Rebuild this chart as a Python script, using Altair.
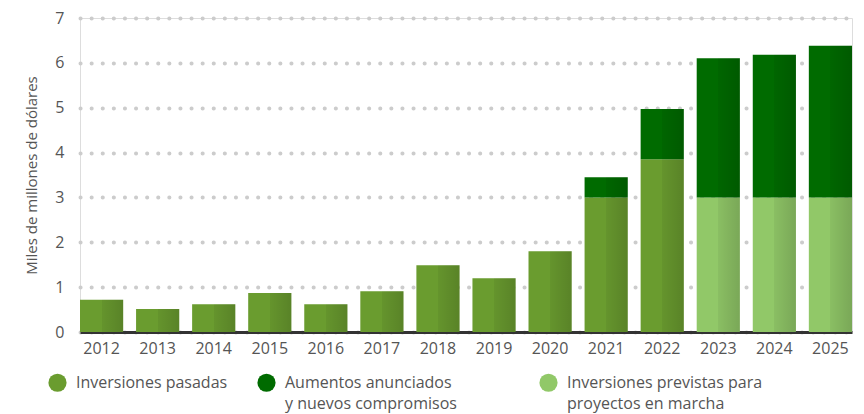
import altair as alt
import pandas as pd

years = [str(y) for y in range(2012, 2026)]
past = [0.72, 0.51, 0.62, 0.87, 0.62, 0.91, 1.49, 1.20, 1.80, 3.00, 3.85, 0, 0, 0]
planned = [0, 0, 0, 0, 0, 0, 0, 0, 0, 0, 0, 3.00, 3.00, 3.00]
announced = [0, 0, 0, 0, 0, 0, 0, 0, 0, 0.45, 1.12, 3.10, 3.18, 3.38]

BLANK = "\u2800"
series_names = [
    "Inversiones pasadas",
    "Aumentos anunciados|y nuevos compromisos\u00a0" + BLANK * 4,
    "Inversiones previstas para|proyectos en marcha",
]
series_colors = ["#6a9c2f", "#006b00", "#91c868"]
stack_rank = {series_names[0]: 0, series_names[2]: 1, series_names[1]: 2}

rows = []
for name, vals in [(series_names[0], past), (series_names[2], planned), (series_names[1], announced)]:
    for y, v in zip(years, vals):
        if v > 0:
            rows.append({"year": y, "series": name, "value": v, "rank": stack_rank[name]})
df = pd.DataFrame(rows)

FONT = "Open Sans"
TXT = "#555555"

x_enc = alt.X(
    "year:N", sort=years,
    scale=alt.Scale(paddingInner=0.23, paddingOuter=0),
    axis=alt.Axis(title=None, labelAngle=0, ticks=False, domain=True, domainColor="#333333",
                  domainWidth=3, labelFontSize=16, labelColor=TXT, labelPadding=8, labelFont=FONT),
)
y_enc = alt.Y(
    "value:Q", stack="zero",
    scale=alt.Scale(domain=[0, 7], nice=False),
    axis=alt.Axis(values=list(range(8)), domain=False, ticks=False, grid=True,
                  gridDash=[0.1, 11], gridCap="round", gridWidth=4, gridColor="#cccccc",
                  labelPadding=16, labelFontSize=16, labelColor=TXT, labelFont=FONT,
                  title="Miles de millones de dólares", titleFontSize=15, titleFontWeight="normal",
                  titleColor=TXT, titleFont=FONT, titlePadding=15),
)

label_expr = (
    "split(datum.label + "
    "(indexof(datum.label, '|') < 0 ? '|" + BLANK + "|" + BLANK + "' : '|" + BLANK + "'), '|')"
)

bars = alt.Chart(df).mark_bar().encode(
    x=x_enc, y=y_enc,
    order=alt.Order("rank:Q"),
    color=alt.Color(
        "series:N",
        scale=alt.Scale(domain=series_names, range=series_colors),
        legend=alt.Legend(
            title=None, orient="none", legendX=-32, legendY=355, direction="horizontal",
            columns=3, symbolType="circle", symbolSize=330, symbolStrokeWidth=0,
            labelFontSize=16, labelColor=TXT, labelFont=FONT, labelOffset=9,
            columnPadding=29, labelLimit=400,
            labelExpr=label_expr,
        ),
    ),
)

shade = alt.Chart(df).mark_bar(
    fill={
        "gradient": "linear", "x1": 0, "y1": 0, "x2": 1, "y2": 0,
        "stops": [
            {"offset": 0, "color": "rgba(0,0,0,0)"},
            {"offset": 0.5, "color": "rgba(0,0,0,0)"},
            {"offset": 0.5, "color": "rgba(0,0,0,0.05)"},
            {"offset": 1, "color": "rgba(0,0,0,0.16)"},
        ],
    }
).encode(x=x_enc, y=y_enc, order=alt.Order("rank:Q"), detail="series:N")

chart = (
    alt.layer(bars, shade)
    .properties(width=772, height=314, autosize="none",
                padding={"left": 72, "top": 10, "right": 4, "bottom": 90})
    .configure_view(stroke=None)
    .configure(font=FONT, style={"guide-label": {"lineHeight": 21}})
)

chart.save("out.html", embed_options={"renderer": "svg", "actions": False})
